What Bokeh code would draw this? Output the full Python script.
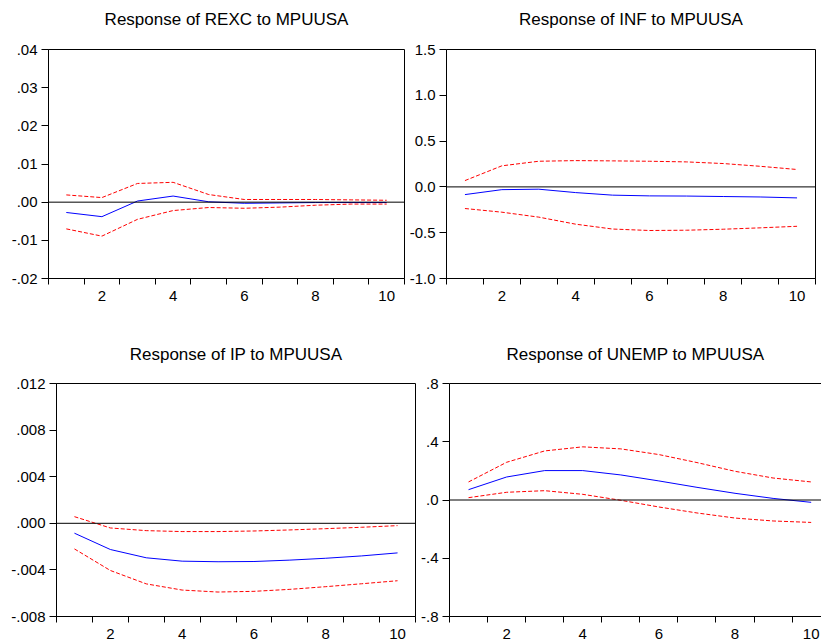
from bokeh.plotting import figure
from bokeh.layouts import column, row
from bokeh.models import FixedTicker, Span, Range1d, Title, LinearAxis
from bokeh.embed import file_html
from bokeh.resources import INLINE

# ---------------- data ----------------
periods = [1, 2, 3, 4, 5, 6, 7, 8, 9, 10]
x_labels = [2, 4, 6, 8, 10]

rexc_resp = [-0.0027, -0.0038, 0.0003, 0.0016, 0.0001, -0.0003, -0.0002, -0.0001, -0.0001, -0.0001]
rexc_upper = [0.0019, 0.0012, 0.0049, 0.0052, 0.0020, 0.0007, 0.0007, 0.0007, 0.0006, 0.0005]
rexc_lower = [-0.0070, -0.0089, -0.0045, -0.0022, -0.0014, -0.0016, -0.0013, -0.0008, -0.0005, -0.0005]
rexc_ticks = [-0.02, -0.01, 0.0, 0.01, 0.02, 0.03, 0.04]
rexc_tick_labels = ["-.02", "-.01", ".00", ".01", ".02", ".03", ".04"]

inf_resp = [-0.084, -0.030, -0.025, -0.062, -0.090, -0.098, -0.100, -0.105, -0.110, -0.120]
inf_upper = [0.069, 0.230, 0.280, 0.287, 0.284, 0.280, 0.273, 0.255, 0.225, 0.190]
inf_lower = [-0.236, -0.276, -0.330, -0.407, -0.460, -0.476, -0.473, -0.462, -0.447, -0.430]
inf_ticks = [-1.0, -0.5, 0.0, 0.5, 1.0, 1.5]
inf_tick_labels = ["-1.0", "-0.5", "0.0", "0.5", "1.0", "1.5"]

ip_resp = [-0.00085, -0.00225, -0.00296, -0.00325, -0.0033, -0.00328, -0.00316, -0.0030, -0.0028, -0.00254]
ip_upper = [0.00057, -0.0004, -0.00063, -0.00071, -0.00071, -0.00066, -0.00057, -0.00046, -0.00034, -0.0002]
ip_lower = [-0.0022, -0.00405, -0.0052, -0.00573, -0.0059, -0.00584, -0.00567, -0.00544, -0.00519, -0.00493]
ip_ticks = [-0.008, -0.004, 0.0, 0.004, 0.008, 0.012]
ip_tick_labels = ["-.008", "-.004", ".000", ".004", ".008", ".012"]

unemp_resp = [0.071, 0.158, 0.202, 0.202, 0.172, 0.131, 0.087, 0.046, 0.011, -0.016]
unemp_upper = [0.124, 0.259, 0.337, 0.365, 0.351, 0.312, 0.257, 0.197, 0.151, 0.124]
unemp_lower = [0.016, 0.053, 0.064, 0.039, -0.002, -0.048, -0.089, -0.124, -0.144, -0.154]
unemp_ticks = [-0.8, -0.4, 0.0, 0.4, 0.8]
unemp_tick_labels = ["-.8", "-.4", ".0", ".4", ".8"]

titles = ["Response of REXC to MPUUSA", "Response of INF to MPUUSA",
          "Response of IP to MPUUSA", "Response of UNEMP to MPUUSA"]

FONT = "Liberation Sans"
minor_x = [p - 0.5 for p in periods] + [periods[-1] + 0.5]


def make_panel(title, resp, upper, lower, yticks, ylabels, width, height,
               mb_left, mb_right, mb_top, mb_bottom, title_gap, x_end=10.5, outline=True):
    p = figure(width=width, height=height, output_backend="svg", toolbar_location=None,
               x_range=Range1d(0.5, x_end), y_range=Range1d(yticks[0], yticks[-1]),
               min_border_left=mb_left, min_border_right=mb_right,
               min_border_top=mb_top, min_border_bottom=mb_bottom)
    p.grid.visible = False
    p.background_fill_color = "white"
    p.border_fill_color = "white"

    # y axis
    ya = p.left[0]
    ya.ticker = FixedTicker(ticks=yticks, minor_ticks=[])
    ya.major_label_overrides = {t: l for t, l in zip(yticks, ylabels)}
    ya.major_tick_out = 7
    ya.major_tick_in = 0
    ya.minor_tick_out = 0
    ya.minor_tick_in = 0
    ya.major_label_standoff = 4
    ya.axis_line_color = "black"
    ya.major_tick_line_color = "black"
    ya.major_label_text_font = FONT
    ya.major_label_text_font_size = "15px"
    ya.major_label_text_color = "black"

    # x axis: short ticks between periods, labels at even periods
    xa = p.below[0]
    xa.ticker = FixedTicker(ticks=x_labels, minor_ticks=minor_x)
    xa.major_tick_line_color = None
    xa.major_tick_out = 6
    xa.major_tick_in = 0
    xa.minor_tick_out = 6
    xa.minor_tick_in = 0
    xa.minor_tick_line_color = "black"
    xa.major_label_standoff = 6
    xa.axis_line_color = "black"
    xa.major_label_text_font = FONT
    xa.major_label_text_font_size = "15px"
    xa.major_label_text_color = "black"

    if outline:
        p.outline_line_color = "black"
        p.outline_line_width = 1
    else:
        # right edge is cut off by the window: draw only the top edge, via a bare axis
        p.outline_line_color = None
        top = LinearAxis(ticker=FixedTicker(ticks=[], minor_ticks=[]),
                         major_tick_out=0, major_tick_in=0, minor_tick_out=0, minor_tick_in=0,
                         major_label_standoff=0, major_label_text_font_size="0px",
                         axis_line_color="black", major_tick_line_color=None,
                         minor_tick_line_color=None)
        p.add_layout(top, "above")
    # spacer panel between the frame and the title
    p.add_layout(Title(text=" ", text_font_size="1px", standoff=title_gap,
                       text_color="white"), "above")
    p.title = Title(text=title, align="center", text_font=FONT, text_font_size="17px",
                    text_font_style="normal", text_color="black", standoff=0)

    p.add_layout(Span(location=0, dimension="width", line_color="black", line_width=1))
    p.line(periods, upper, line_color="#FF0000", line_width=1, line_dash="4 2")
    p.line(periods, lower, line_color="#FF0000", line_width=1, line_dash="4 2")
    p.line(periods, resp, line_color="#0000FF", line_width=1)
    return p


p1 = make_panel(titles[0], rexc_resp, rexc_upper, rexc_lower, rexc_ticks, rexc_tick_labels,
                406, 330, 48, 2, 49, 52, 18)
p2 = make_panel(titles[1], inf_resp, inf_upper, inf_lower, inf_ticks, inf_tick_labels,
                415, 330, 40, 6, 49, 52, 18)
p3 = make_panel(titles[2], ip_resp, ip_upper, ip_lower, ip_ticks, ip_tick_labels,
                417, 314, 52, 2, 52, 28, 17)
p3.min_border_left = 56
p4 = make_panel(titles[3], unemp_resp, unemp_upper, unemp_lower, unemp_ticks, unemp_tick_labels,
                404, 314, 32, 0, 53, 28, 17, x_end=0.5 + 372 / 38.07, outline=False)

layout = column(row(p1, p2, spacing=0), row(p3, p4, spacing=0), spacing=0)

with open("out.html", "w") as f:
    f.write(file_html(layout, INLINE))
